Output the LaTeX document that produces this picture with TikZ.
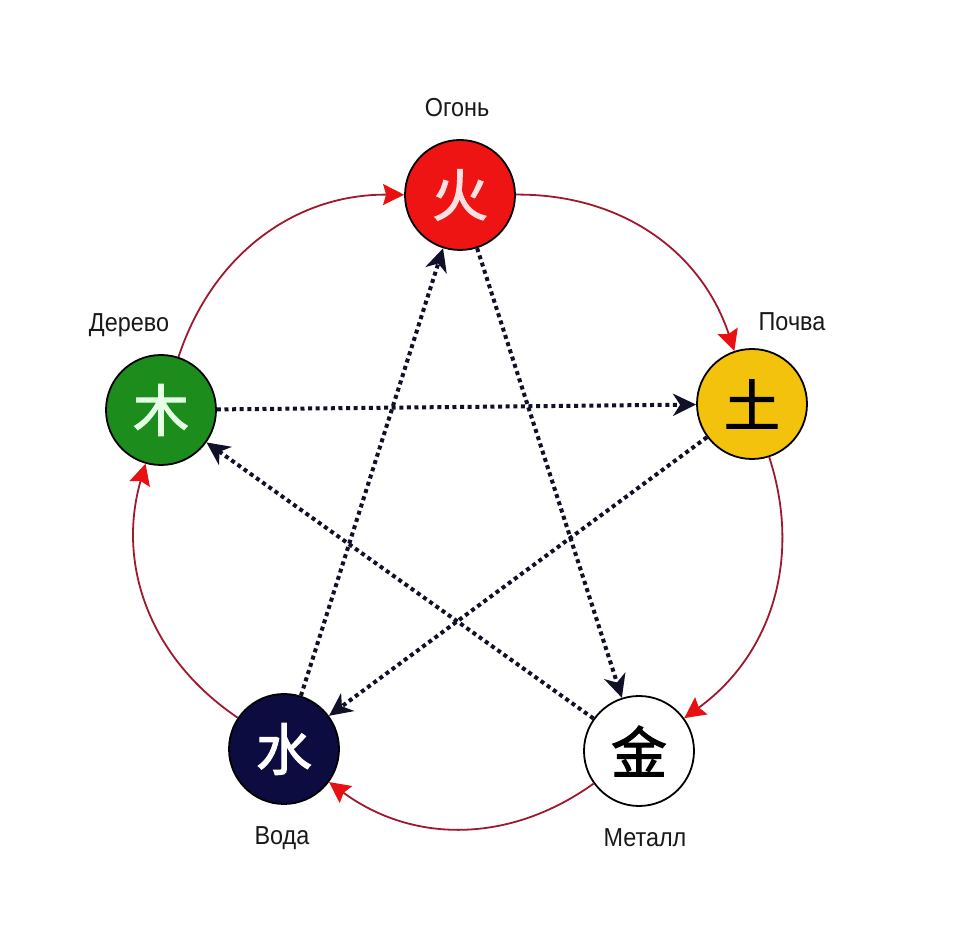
\documentclass[tikz,border=0pt]{standalone}
\usepackage{fontspec}
\setmainfont{Liberation Sans}
\newfontfamily\labfont[FakeStretch=0.9]{Liberation Sans}
\newfontfamily\cjk[FakeBold=2]{Noto Sans CJK SC}
\usetikzlibrary{arrows.meta}
\definecolor{firered}{HTML}{EE1414}
\definecolor{earthgold}{HTML}{F2C20C}
\definecolor{waternavy}{HTML}{0C0C40}
\definecolor{woodgreen}{HTML}{1C8C1C}
\definecolor{linered}{HTML}{A01830}
\definecolor{arrowred}{HTML}{E81010}
\definecolor{dotblack}{HTML}{101028}
\begin{document}
\begin{tikzpicture}[x=1pt,y=1pt,
  element/.style={circle,draw=black,line width=1.8pt,minimum size=110pt,inner sep=0pt,
    font=\cjk\fontsize{56}{56}\selectfont},
  elabel/.style={font=\labfont\fontsize{26}{26}\selectfont,text=black!90},
  cycle/.style={draw=linered,line width=1.8pt,
    -{Stealth[length=21pt,width=21pt,inset=3pt,color=arrowred,fill=arrowred]}},
  control/.style={draw=dotblack,line width=4pt,dash pattern=on 4pt off 3.6pt,
    -{Stealth[length=23pt,width=22pt,inset=7pt,color=dotblack,fill=dotblack]}}]
\useasboundingbox[fill=white] (0,0) rectangle (956,952);
% elements
\node[element,fill=firered,text=red!12] (fire) at (460,757) {火};
\node[element,fill=earthgold,text=black] (earth) at (752,548) {土};
\node[element,fill=white,text=black] (metal) at (639,201) {金};
\node[element,fill=waternavy,text=white] (water) at (284,203) {水};
\node[element,fill=woodgreen,text=green!10] (wood) at (161,542) {木};
% labels
\node[elabel] (lfire) at (457,844) {Огонь};
\node[elabel] (learth) at (792,630) {Почва};
\node[elabel] (lmetal) at (645,114) {Металл};
\node[elabel] (lwater) at (282,114) {Вода};
\node[elabel] (lwood) at (129,627) {Дерево};
% generating cycle
\draw[cycle] (fire) to[bend left=36] (earth);
\draw[cycle] (earth) to[bend left=36] (metal);
\draw[cycle] (metal) to[bend left=36] (water);
\draw[cycle] (water) to[bend left=36] (wood);
\draw[cycle] (wood) to[bend left=36] (fire);
% controlling star
\draw[control] (wood) -- (earth);
\draw[control] (earth) -- (water);
\draw[control] (water) -- (fire);
\draw[control] (fire) -- (metal);
\draw[control] (metal) -- (wood);
\end{tikzpicture}
\end{document}
